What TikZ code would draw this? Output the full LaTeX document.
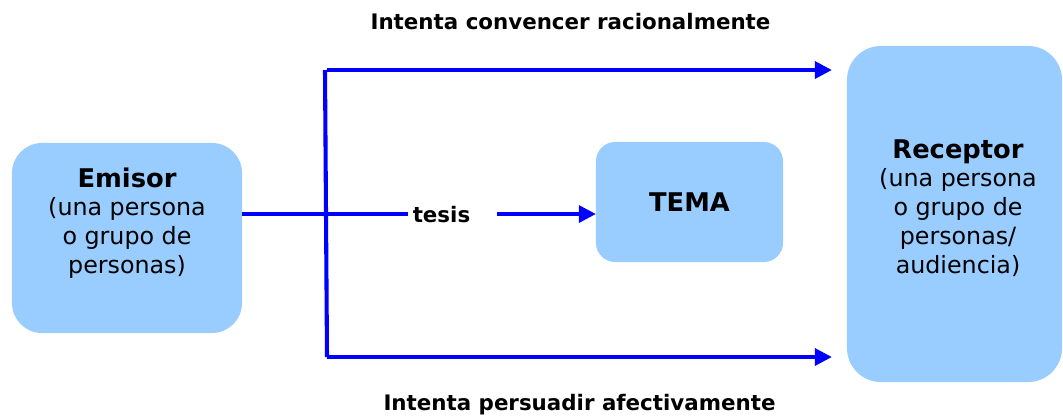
\documentclass[tikz,border=0pt]{standalone}
\usepackage{fontspec}
\setmainfont{DejaVu Sans}
\usepackage{tikz}
\usetikzlibrary{arrows.meta, positioning, calc}
\definecolor{boxblue}{RGB}{153,204,255}
\tikzset{%
	box/.style={fill=boxblue, inner sep=0mm, outer sep=0mm},
	conn/.style={draw=blue, line width=2.9pt},
	sel/.style={conn, -{Triangle[length=4.3mm, width=4.2mm]}},
	lbl/.style={font=\fontsize{15.2}{18}\selectfont\bfseries, inner sep=1mm},
	txt/.style={align=center, font=\fontsize{16.9}{20.5}\selectfont}
}
\newcommand{\ttl}{\fontsize{18.3}{22}\selectfont\bfseries}

\begin{document}
\begin{tikzpicture}[x=0.025cm, y=-0.025cm]
  \useasboundingbox (0,0) rectangle (1063,417);
  \node[box, minimum width=5.75cm, minimum height=4.75cm, rounded corners=0.75cm] (emisor) at (127,238) {};
  \node[txt] (emisortxt) at (127,223) {{\ttl Emisor}\\(una persona\\o grupo de\\personas)};
  \node[box, minimum width=4.675cm, minimum height=3cm, rounded corners=0.48cm, font=\ttl] (tema) at (689.5,202) {TEMA};
  \node[box, minimum width=5.375cm, minimum height=8.4cm, rounded corners=0.85cm] (receptor) at (954.5,214) {};
  \node[txt] (receptortxt) at (958,208) {{\ttl Receptor}\\(una persona\\o grupo de\\personas/\\audiencia)};

  \node[lbl, anchor=base] (tesis) at (441.5,222) {tesis};
  \node[lbl, anchor=base] (razon) at (570.5,29) {Intenta convencer racionalmente};
  \node[lbl, anchor=base] (afecto) at (579.5,410) {Intenta persuadir afectivamente};

  \coordinate (top) at (325,70);
  \coordinate (bot) at (327,357);

  \draw[conn] (emisor.east |- tesis.west) -- (tesis.west);
  \draw[sel, shorten <=0.55cm] (tesis.east) -- (tesis.east -| tema.west);
  \draw[conn] (top) -- (bot);
  \draw[sel, shorten >=0.375cm] ($(top)+(2,0)$) -- (top -| receptor.west);
  \draw[sel, shorten >=0.375cm] (bot) -- (bot -| receptor.west);
\end{tikzpicture}
\end{document}
